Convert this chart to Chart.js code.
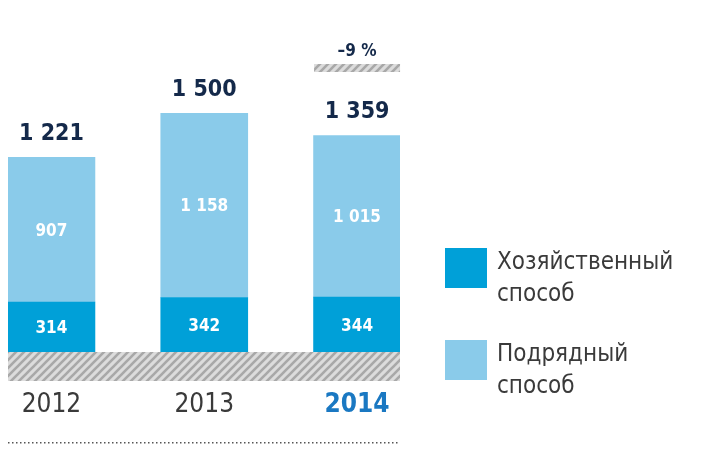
<!DOCTYPE html>
<html><head><meta charset="utf-8">
<script src="https://cdn.jsdelivr.net/npm/chart.js@4/dist/chart.umd.min.js"></script>
<style>html,body{margin:0;background:#fff}#c{display:block}</style>
</head><body>
<div style="width:708px;height:467px"><canvas id="c"></canvas></div>
<script>
const years = ['2012', '2013', '2014'];
const ownWay = [314, 342, 344];
const contractWay = [907, 1158, 1015];
const totals = ['1 221', '1 500', '1 359'];
const ownLabels = ['314', '342', '344'];
const contractLabels = ['907', '1 158', '1 015'];
const changeLabel = '–9 %';
const legendNames = [['Хозяйственный', 'способ'], ['Подрядный', 'способ']];
const DARK = '#00a0d8', LIGHT = '#8acbea', NAVY = '#14294a';

function hatch(ctx) {
  const p = document.createElement('canvas'); p.width = 8; p.height = 8;
  const g = p.getContext('2d');
  g.fillStyle = '#dcdcdc'; g.fillRect(0, 0, 8, 8);
  g.strokeStyle = '#a8a8a8'; g.lineWidth = 2.6;
  g.beginPath(); g.moveTo(0, 8); g.lineTo(8, 0); g.moveTo(-4, 4); g.lineTo(4, -4); g.moveTo(4, 12); g.lineTo(12, 4); g.stroke();
  return ctx.createPattern(p, 'repeat');
}

const decor = {
  id: 'decor',
  afterDatasetsDraw(chart) {
    const { ctx, scales: { x, y } } = chart;
    const pat = hatch(ctx);
    const base = y.getPixelForValue(0);
    ctx.save();
    ctx.fillStyle = pat;
    ctx.fillRect(8, base, 392, 29);
    ctx.fillRect(x.getPixelForValue(2) - 43, 64, 86, 8);
    ctx.textAlign = 'center'; ctx.textBaseline = 'alphabetic';
    ctx.fillStyle = NAVY;
    ctx.font = 'bold 17px "DejaVu Sans Condensed"';
    ctx.fillText(changeLabel, x.getPixelForValue(2), 56);
    years.forEach((yr, i) => {
      const cx = x.getPixelForValue(i);
      const tot = ownWay[i] + contractWay[i];
      ctx.fillStyle = NAVY;
      ctx.font = 'bold 23px "DejaVu Sans Condensed"';
      ctx.fillText(totals[i], cx, y.getPixelForValue(tot) - 17);
      ctx.fillStyle = '#fff';
      ctx.font = 'bold 17px "DejaVu Sans Condensed"';
      ctx.fillText(ownLabels[i], cx, y.getPixelForValue(ownWay[i] / 2) + 6);
      ctx.fillText(contractLabels[i], cx, y.getPixelForValue(ownWay[i] + contractWay[i] / 2) + 6);
      ctx.font = i === 2 ? 'bold 26px "DejaVu Sans Condensed"' : '26px "DejaVu Sans Condensed"';
      ctx.fillStyle = i === 2 ? '#1a78c2' : '#3a3a3a';
      ctx.fillText(yr, cx, 412);
    });
    ctx.fillStyle = '#555';
    for (let px = 8; px < 400; px += 4) ctx.fillRect(px, 442, 1.5, 1.5);
    ctx.textAlign = 'left';
    ctx.font = '24px "DejaVu Sans Condensed"';
    [[DARK, 248], [LIGHT, 340]].forEach(([c, top], k) => {
      ctx.fillStyle = c; ctx.fillRect(445, top, 42, 40);
      ctx.fillStyle = '#3a3a3a';
      ctx.fillText(legendNames[k][0], 497, top + 21);
      ctx.fillText(legendNames[k][1], 497, top + 53);
    });
    ctx.restore();
  }
};

new Chart(document.getElementById('c'), {
  type: 'bar',
  data: {
    datasets: [
      { data: ownWay.map((v, i) => ({ x: i, y: v })), backgroundColor: DARK, barThickness: 87 },
      { data: contractWay.map((v, i) => ({ x: i, y: v })), backgroundColor: LIGHT, barThickness: 87 }
    ]
  },
  options: {
    responsive: true, maintainAspectRatio: false, animation: false,
    layout: { padding: { top: 113, bottom: 115, left: 8, right: 308 } },
    plugins: { legend: { display: false }, tooltip: { enabled: false } },
    scales: {
      x: { type: 'linear', offset: false, min: -43.5 / 153, max: 2 + 43 / 153, stacked: true, display: false },
      y: { min: 0, max: 1500, stacked: true, display: false }
    }
  },
  plugins: [decor]
});
</script>
</body></html>
